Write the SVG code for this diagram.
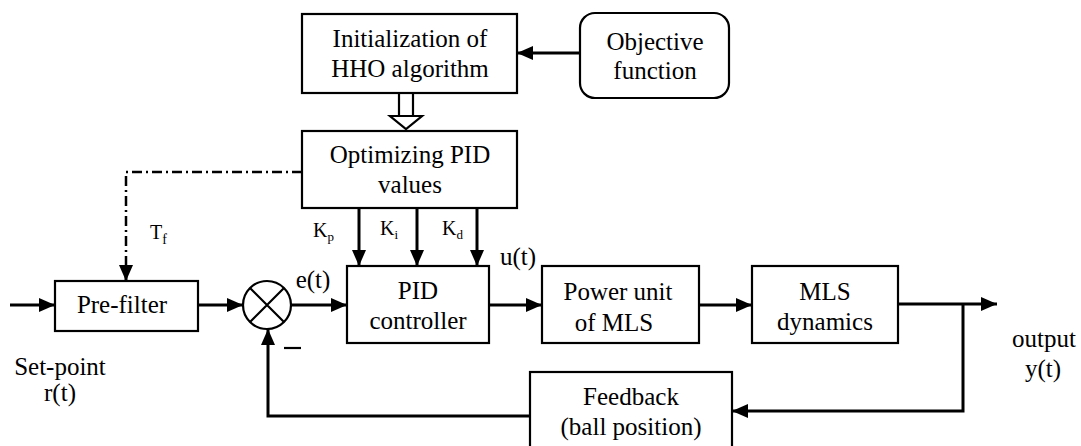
<svg xmlns="http://www.w3.org/2000/svg" width="1081" height="446" viewBox="0 0 1081 446">
<defs>
<marker id="ah" viewBox="0 0 16 14" refX="16" refY="7" markerWidth="16" markerHeight="14" markerUnits="userSpaceOnUse" orient="auto">
<path d="M0,0 L16,7 L0,14 Z" fill="#000"/>
</marker>
<style>
.box{fill:#fff;stroke:#000;stroke-width:2.2}
.t{font-size:25px;fill:#000;text-anchor:middle}
.s{font-size:20px;fill:#000}
.c{fill:none;stroke:#000;stroke-width:3}
.dd{fill:none;stroke:#000;stroke-width:2.5;stroke-dasharray:10 4 2 4}
</style>
</defs>
<rect width="1081" height="446" fill="#fff"/>
<g font-family="Liberation Serif, DejaVu Serif, Times New Roman, serif">
<g id="init">
<rect class="box" x="302" y="14" width="215" height="79"/>
<text class="t" x="410" y="47">Initialization of</text>
<text class="t" x="410" y="77">HHO algorithm</text>
</g>
<g id="objective">
<rect class="box" x="580" y="13" width="149" height="85" rx="15" ry="15"/>
<text class="t" x="655" y="50">Objective</text>
<text class="t" x="655" y="79">function</text>
</g>
<g id="optimizing">
<rect class="box" x="302" y="131" width="215" height="77"/>
<text class="t" x="410" y="163">Optimizing PID</text>
<text class="t" x="410" y="193">values</text>
</g>
<g id="prefilter">
<rect class="box" x="55" y="281" width="143" height="50"/>
<text class="t" x="122" y="313">Pre-filter</text>
</g>
<g id="sum">
<circle cx="267" cy="305" r="24" fill="#fff" stroke="#000" stroke-width="2.2"/>
<path d="M250,288 L284,322 M284,288 L250,322" stroke="#000" stroke-width="2.2"/>
</g>
<g id="pid">
<rect class="box" x="347" y="266" width="142" height="77"/>
<text class="t" x="418" y="299">PID</text>
<text class="t" x="418" y="329">controller</text>
</g>
<g id="power">
<rect class="box" x="542" y="266" width="157" height="77"/>
<text class="t" x="618" y="300">Power unit</text>
<text class="t" x="614" y="331">of MLS</text>
</g>
<g id="mls">
<rect class="box" x="752" y="266" width="146" height="77"/>
<text class="t" x="825" y="300">MLS</text>
<text class="t" x="825" y="330">dynamics</text>
</g>
<g id="feedback">
<rect class="box" x="530" y="372" width="202" height="80"/>
<text class="t" x="631" y="405">Feedback</text>
<text class="t" x="631" y="435">(ball position)</text>
</g>

<g id="connectors">
<path class="c" d="M580,53 L517,53" marker-end="url(#ah)"/>
<path d="M399,93 V116 M413,93 V116" stroke="#000" stroke-width="2.2" fill="none"/>
<path d="M390,116 L422,116 L406,129 Z" fill="#fff" stroke="#000" stroke-width="2.2"/>
<path class="dd" d="M302,172 H126 V268"/>
<path class="c" d="M126,266 V281" marker-end="url(#ah)"/>
<path class="c" d="M359,208 V266" marker-end="url(#ah)"/>
<path class="c" d="M417,208 V266" marker-end="url(#ah)"/>
<path class="c" d="M477,208 V266" marker-end="url(#ah)"/>
<path class="c" d="M10,305 H55" marker-end="url(#ah)"/>
<path class="c" d="M198,305 H243" marker-end="url(#ah)"/>
<path class="c" d="M291,305 H347" marker-end="url(#ah)"/>
<path class="c" d="M489,305 H542" marker-end="url(#ah)"/>
<path class="c" d="M699,305 H752" marker-end="url(#ah)"/>
<path class="c" d="M898,304 H997" marker-end="url(#ah)"/>
<path class="c" d="M963,304 V411 H732" marker-end="url(#ah)"/>
<path class="c" d="M530,416 H268 V329" marker-end="url(#ah)"/>
</g>

<g id="labels">
<text class="s" x="150" y="239">T<tspan font-size="14" dy="5">f</tspan></text>
<text class="s" x="313" y="237">K<tspan font-size="13" dy="4">p</tspan></text>
<text class="s" x="380" y="235">K<tspan font-size="13" dy="4">i</tspan></text>
<text class="s" x="442" y="235">K<tspan font-size="13" dy="4">d</tspan></text>
<text class="t" x="313" y="288">e(t)</text>
<text class="t" x="518" y="265">u(t)</text>
<path d="M284,348 H301" stroke="#000" stroke-width="2.2"/>
<text class="t" x="60" y="375">Set-point</text>
<text class="t" x="60" y="401">r(t)</text>
<text class="t" x="1044" y="347">output</text>
<text class="t" x="1043" y="377">y(t)</text>
</g>
</g>
</svg>
